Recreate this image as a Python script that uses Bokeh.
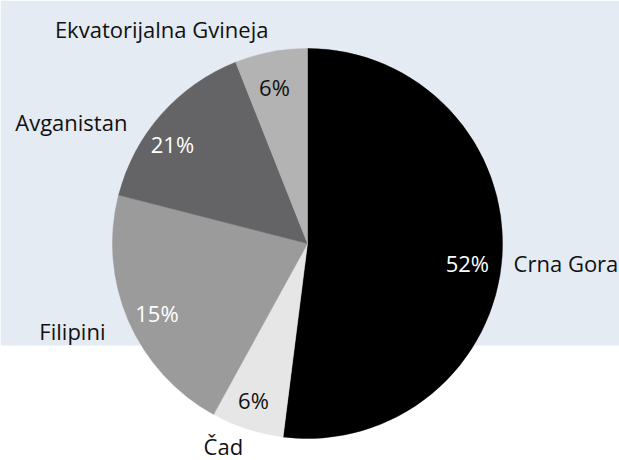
import math
from bokeh.plotting import figure
from bokeh.models import Range1d, BoxAnnotation, ColumnDataSource
from bokeh.core.properties import value
from bokeh.embed import file_html
from bokeh.resources import INLINE

# ---- data ----
countries = ["Crna Gora", "Čad", "Filipini", "Avganistan", "Ekvatorijalna Gvineja"]
shares = [52, 6, 21, 15, 6]                          # slice sizes, %
share_labels = ["52%", "6%", "15%", "21%", "6%"]     # percentages as printed
colors = ["#000000", "#e6e6e6", "#9b9b9c", "#646466", "#b3b3b3"]
pct_colors = ["#ffffff", "#111111", "#ffffff", "#ffffff", "#111111"]

# ---- layout ----
W, H = 619, 460
cx, cy, R = 307, 217, 195
FONT = value("Open Sans")
FSIZE = "22px"
inner_nudge = [3.2, 1.0, -1.5, -4.9, -1.1]     # degrees
inner_r = [161, 166, 166, 168, 160]
outer_nudge = [1.7, 4.6, 0.1, -7.3, 0.5]
outer_r = [207, 219, 220, 217.5, 218.5]
outer_align = ["left", "center", "right", "right", "right"]

p = figure(width=W, height=H, x_range=Range1d(0, W), y_range=Range1d(0, H),
           output_backend="svg", toolbar_location=None, min_border=0,
           x_axis_location=None, y_axis_location=None)
p.grid.visible = False
p.outline_line_color = None
p.background_fill_color = "white"
p.border_fill_color = "white"

p.add_layout(BoxAnnotation(bottom=115, fill_color="#e5ebf3", fill_alpha=1,
                           line_color=None, level="underlay"))

total = float(sum(shares))
starts, ends, mids = [], [], []
cum = 0.0
for s in shares:
    a0 = cum / total * 2 * math.pi
    cum += s
    a1 = cum / total * 2 * math.pi
    starts.append(math.pi / 2 - a1)
    ends.append(math.pi / 2 - a0)
    mids.append(math.degrees((a0 + a1) / 2))

src = ColumnDataSource(dict(start=starts, end=ends, color=colors, name=countries))
p.wedge(x=cx, y=cy, radius=R, start_angle="start", end_angle="end",
        fill_color="color", line_color="color", line_width=0.5, source=src)


def polar(deg, r):
    phi = math.pi / 2 - math.radians(deg)
    return cx + r * math.cos(phi), cy + r * math.sin(phi)


for i in range(len(shares)):
    x, y = polar(mids[i] + inner_nudge[i], inner_r[i])
    p.text(x=[x], y=[y], text=[share_labels[i]], text_font=FONT,
           text_font_size=FSIZE, text_color=pct_colors[i],
           text_align="center", text_baseline="middle")
    x, y = polar(mids[i] + outer_nudge[i], outer_r[i])
    p.text(x=[x], y=[y], text=[countries[i]], text_font=FONT,
           text_font_size=FSIZE, text_color="#111111",
           text_align=outer_align[i], text_baseline="middle")

open("out.html", "w").write(file_html(p, INLINE))
